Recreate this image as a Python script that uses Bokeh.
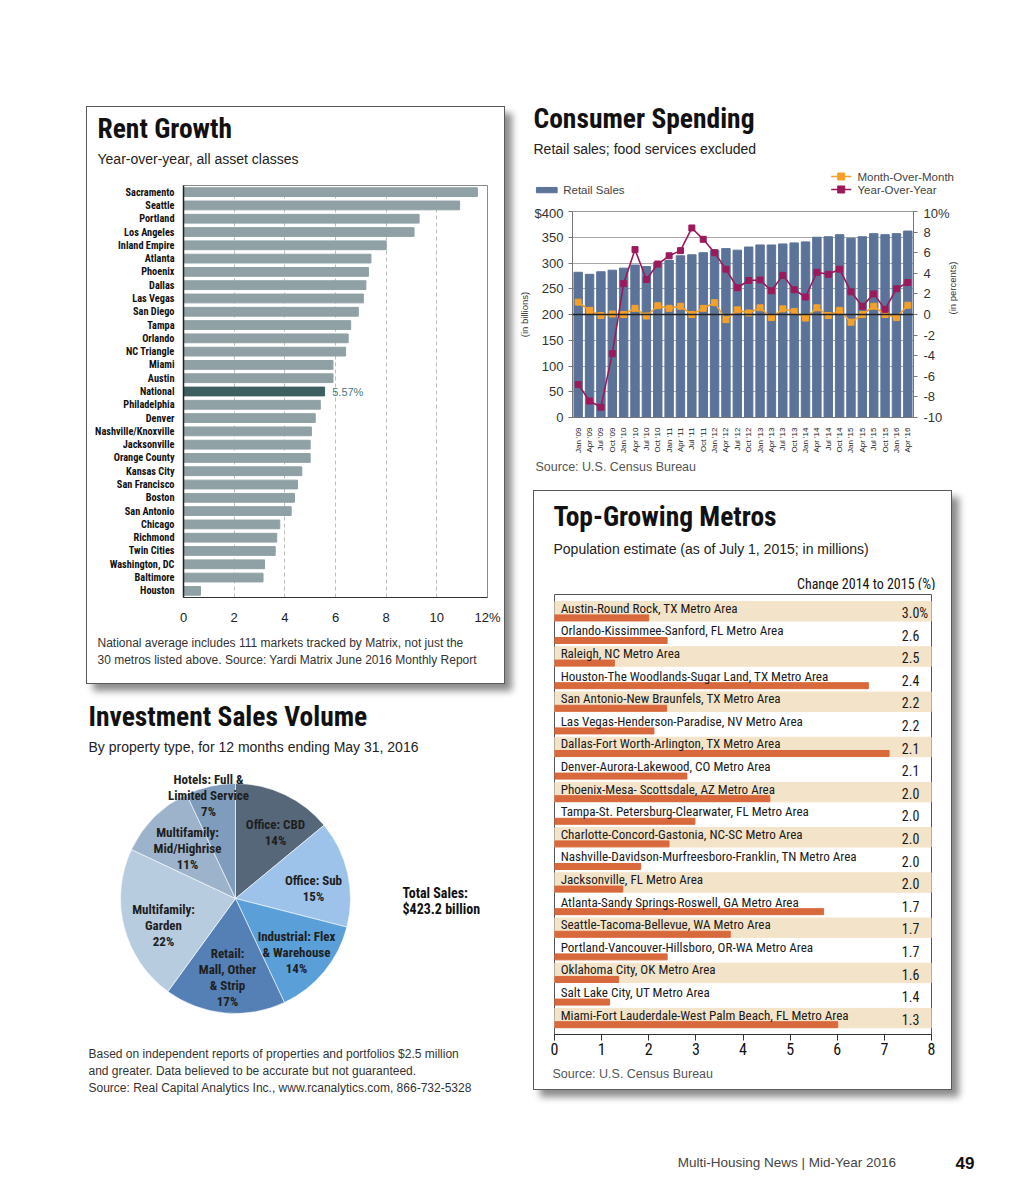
import math
from bokeh.plotting import figure
from bokeh.models import Range1d, FactorRange, Spacer, FixedTicker, CustomJSTickFormatter, Span, Label, LinearAxis
from bokeh.layouts import row, column
from bokeh.embed import file_html
from bokeh.resources import INLINE
from bokeh.core.properties import value

NARROW = "Roboto Condensed, Liberation Sans Narrow, DejaVu Sans Condensed, sans-serif"
SANS = "Liberation Sans, Arial, Helvetica, sans-serif"

# ---------------- data ----------------
rent_cities = ["Sacramento", "Seattle", "Portland", "Los Angeles", "Inland Empire", "Atlanta",
               "Phoenix", "Dallas", "Las Vegas", "San Diego", "Tampa", "Orlando", "NC Triangle",
               "Miami", "Austin", "National", "Philadelphia", "Denver", "Nashville/Knoxville",
               "Jacksonville", "Orange County", "Kansas City", "San Francisco", "Boston",
               "San Antonio", "Chicago", "Richmond", "Twin Cities", "Washington, DC", "Baltimore",
               "Houston"]
rent_growth = [11.6, 10.9, 9.3, 9.1, 8.0, 7.4, 7.3, 7.2, 7.1, 6.9, 6.6, 6.5, 6.4, 5.9, 5.9, 5.57,
               5.4, 5.2, 5.05, 5.0, 5.0, 4.67, 4.5, 4.38, 4.25, 3.8, 3.68, 3.62, 3.2, 3.14, 0.67]
rent_ticks = [0, 2, 4, 6, 8, 10, 12]

quarters = ["Jan '09", "Apr '09", "Jul '09", "Oct '09", "Jan '10", "Apr '10", "Jul '10", "Oct '10",
            "Jan '11", "Apr '11", "Jul '11", "Oct '11", "Jan '12", "Apr '12", "Jul '12", "Oct '12",
            "Jan '13", "Apr '13", "Jul '13", "Oct '13", "Jan '14", "Apr '14", "Jul '14", "Oct '14",
            "Jan '15", "Apr '15", "Jul '15", "Oct '15", "Jan '16", "Apr '16"]
retail_sales = [282, 278, 283, 286, 290, 296, 293, 301, 305, 314, 316, 320, 325, 328, 325, 331,
                335, 335, 337, 339, 341, 350, 351, 355, 348, 351, 357, 355, 357, 362]
mom = [1.2, 0.4, -0.1, 0.05, 0.0, 0.6, -0.15, 0.85, 0.6, 0.8, 0.0, 0.6, 1.15, -0.5, 0.45, 0.15,
       0.65, -0.3, 0.55, 0.3, -0.35, 0.65, -0.1, 0.4, -0.75, 0.0, 0.8, 0.0, -0.3, 0.9]
yoy = [-6.8, -8.4, -9.0, -3.8, 3.0, 6.3, 3.4, 4.9, 5.7, 6.2, 8.4, 7.3, 6.0, 4.4, 2.6, 3.3,
       3.35, 2.3, 3.8, 2.4, 1.7, 4.1, 3.9, 4.4, 2.2, 0.8, 2.0, 0.5, 2.5, 3.1]
sales_ticks = [0, 50, 100, 150, 200, 250, 300, 350, 400]
pct_ticks = [-10, -8, -6, -4, -2, 0, 2, 4, 6, 8, 10]

pie_names = ["Office: CBD", "Office: Sub", "Industrial: Flex & Warehouse",
             "Retail: Mall, Other & Strip", "Multifamily: Garden", "Multifamily: Mid/Highrise",
             "Hotels: Full & Limited Service"]
pie_lines = [["Office: CBD"], ["Office: Sub"], ["Industrial: Flex", "& Warehouse"],
             ["Retail:", "Mall, Other", "& Strip"], ["Multifamily:", "Garden"],
             ["Multifamily:", "Mid/Highrise"], ["Hotels: Full &", "Limited Service"]]
pie_shares = [14, 15, 14, 17, 22, 11, 7]
total_sales = "$423.2 billion"

metro_names = ["Austin-Round Rock, TX Metro Area", "Orlando-Kissimmee-Sanford, FL Metro Area",
               "Raleigh, NC Metro Area", "Houston-The Woodlands-Sugar Land, TX Metro Area",
               "San Antonio-New Braunfels, TX Metro Area", "Las Vegas-Henderson-Paradise, NV Metro Area",
               "Dallas-Fort Worth-Arlington, TX Metro Area", "Denver-Aurora-Lakewood, CO Metro Area",
               "Phoenix-Mesa- Scottsdale, AZ Metro Area", "Tampa-St. Petersburg-Clearwater, FL Metro Area",
               "Charlotte-Concord-Gastonia, NC-SC Metro Area",
               "Nashville-Davidson-Murfreesboro-Franklin, TN Metro Area",
               "Jacksonville, FL Metro Area", "Atlanta-Sandy Springs-Roswell, GA Metro Area",
               "Seattle-Tacoma-Bellevue, WA Metro Area", "Portland-Vancouver-Hillsboro, OR-WA Metro Area",
               "Oklahoma City, OK Metro Area", "Salt Lake City, UT Metro Area",
               "Miami-Fort Lauderdale-West Palm Beach, FL Metro Area"]
metro_pop = [2.00, 2.39, 1.27, 6.66, 2.38, 2.11, 7.10, 2.81, 4.57, 2.98, 2.43, 1.83, 1.45, 5.71,
             3.73, 2.39, 1.36, 1.17, 6.01]
metro_change = [3.0, 2.6, 2.5, 2.4, 2.2, 2.2, 2.1, 2.1, 2.0, 2.0, 2.0, 2.0, 2.0, 1.7, 1.7, 1.7,
                1.6, 1.4, 1.3]
metro_ticks = [0, 1, 2, 3, 4, 5, 6, 7, 8]

# ---------------- helpers ----------------
def deco(w, h):
    p = figure(width=w, height=h, x_range=Range1d(0, w), y_range=Range1d(h, 0),
               x_axis_type=None, y_axis_type=None, toolbar_location=None,
               output_backend="svg", min_border=0, frame_align=False)
    p.outline_line_color = None
    p.background_fill_color = None
    p.border_fill_color = None
    return p


def txt(p, x, y, s, size, font=SANS, style="normal", color="#222222", align="left",
        baseline="middle"):
    p.text(x=[x], y=[y], text=[s], text_font=value(font), text_font_size=value(f"{size}px"),
           text_font_style=style, text_color=color, text_align=align, text_baseline=baseline)


def clean(p):
    p.background_fill_color = None
    p.border_fill_color = None
    p.xaxis.minor_tick_line_color = None
    p.yaxis.minor_tick_line_color = None


BOX = {"border": "1px solid #5a5a5a", "box-shadow": "7px 7px 7px rgba(0,0,0,0.45)",
       "background-color": "white"}

# ---------------- Rent Growth ----------------
rent_head = deco(417, 73)
txt(rent_head, 10, 21, "Rent Growth", 27.5, font=NARROW, style="bold", color="#111111")
txt(rent_head, 10, 51, "Year-over-year, all asset classes", 14, color="#222222")

rent = figure(width=417, height=447, y_range=FactorRange(factors=rent_cities[::-1]),
              x_range=Range1d(0, 12), toolbar_location=None, output_backend="svg",
              frame_align=False,
              min_border_left=96, min_border_right=17, min_border_top=5, min_border_bottom=26)
clean(rent)
rent.outline_line_color = "#8a8a8a"
rent_colors = ["#3d5f5f" if c == "National" else "#8fa1a4" for c in rent_cities]
rent.hbar(y=rent_cities, left=0, right=rent_growth, height=0.66, color=rent_colors)
nat = rent_growth[rent_cities.index("National")]
rent.text(x=[nat + 0.3], y=["National"], text=[f"{nat:.2f}%"], text_font=value(SANS),
          text_font_size=value("11px"), text_color="#4a7a78", text_baseline="middle")
rent.ygrid.visible = False
rent.xgrid.ticker = FixedTicker(ticks=rent_ticks[1:-1])
rent.xgrid.grid_line_color = "#bdbdbd"
rent.xgrid.grid_line_dash = "4 3"
rent.xaxis.ticker = FixedTicker(ticks=rent_ticks)
rent.xaxis.formatter = CustomJSTickFormatter(code="return tick == 12 ? '12%' : tick.toString();")
rent.xaxis.major_tick_line_color = None
rent.xaxis.axis_line_color = "#333333"
rent.xaxis.major_label_text_font = SANS
rent.xaxis.major_label_text_font_size = "13px"
rent.xaxis.major_label_text_color = "#222222"
rent.xaxis.major_label_standoff = 6
rent.yaxis.axis_line_color = "#222222"
rent.yaxis.axis_line_width = 1.5
rent.yaxis.major_tick_line_color = None
rent.yaxis.major_label_text_font = NARROW
rent.yaxis.major_label_text_font_style = "bold"
rent.yaxis.major_label_text_font_size = "10.3px"
rent.yaxis.major_label_text_color = "#111111"
rent.yaxis.major_label_standoff = 3
rent.yaxis.major_label_overrides = {"National": " "}
rent.add_layout(Label(x=-0.3, y=15.5, text="National", text_align="right",
                      text_baseline="middle", text_font=NARROW, text_font_style="bold",
                      text_font_size="10.3px", text_color="#3f6b69"))

rent_notes = deco(417, 56)
txt(rent_notes, 10, 15, "National average includes 111 markets tracked by Matrix, not just the",
    12, color="#333333")
txt(rent_notes, 10, 32, "30 metros listed above. Source: Yardi Matrix June 2016 Monthly Report",
    12, color="#333333")

rent_box = column(rent_head, rent, rent_notes, styles=BOX)

# ---------------- Investment Sales Volume ----------------
IH = 408
inv = figure(width=426, height=IH, x_range=Range1d(0, 426), y_range=Range1d(0, IH),
             x_axis_type=None, y_axis_type=None, toolbar_location=None,
             output_backend="svg", min_border=0, frame_align=False)
inv.outline_line_color = None
inv.background_fill_color = None
inv.border_fill_color = None


def itxt(x, yd, s, size, **kw):
    txt(inv, x, IH - yd, s, size, **kw)


itxt(2, 24, "Investment Sales Volume", 27.5, font=NARROW, style="bold", color="#111111")
itxt(2, 54, "By property type, for 12 months ending May 31, 2016", 14)

pie_colors = ["#56677a", "#9dc3ea", "#5a9fd8", "#5480b5", "#b8cce0", "#9db3cb", "#7f9cbc"]
total = sum(pie_shares)
starts, ends = [], []
acc = 0
for v in pie_shares:
    starts.append(math.pi / 2 - 2 * math.pi * acc / total)
    acc += v
    ends.append(math.pi / 2 - 2 * math.pi * acc / total)
inv.wedge(x=149, y=IH - 206, radius=115, start_angle=starts, end_angle=ends, direction="clock",
          fill_color=pie_colors, line_color="white", line_width=0.6)

label_pos = [(189, 132), (227, 188), (210, 244), (141, 261), (77, 217), (101, 140), (122, 87)]
for lines, v, (lx, ly) in zip(pie_lines, pie_shares, label_pos):
    allines = lines + [f"{v}%"]
    for k, s in enumerate(allines):
        itxt(lx, ly + 16 * k, s, 13, font=NARROW, style="bold", color="#1e1e1e", align="center")

itxt(316, 200, "Total Sales:", 14, font=NARROW, style="bold", color="#111111")
itxt(316, 216, total_sales, 14, font=NARROW, style="bold", color="#111111")

itxt(2, 361, "Based on independent reports of properties and portfolios $2.5 million", 12,
     color="#333333")
itxt(2, 378, "and greater. Data believed to be accurate but not guaranteed.", 12, color="#333333")
itxt(2, 395, "Source: Real Capital Analytics Inc., www.rcanalytics.com, 866-732-5328", 12,
     color="#333333")

# ---------------- Consumer Spending ----------------
ORANGE = "#f5a02a"
MAROON = "#9c1a5c"
BAR_BLUE = "#5b7399"

cons_head = deco(458, 197)
txt(cons_head, 21, 110, "Consumer Spending", 27.5, font=NARROW, style="bold", color="#111111")
txt(cons_head, 21, 140, "Retail sales; food services excluded", 14)
cons_head.rect(x=[34.3], y=[181.6], width=[20.7], height=[5.3], color=BAR_BLUE)
txt(cons_head, 50.7, 181, "Retail Sales", 11.5, color="#444444")
cons_head.line(x=[318.7, 338.7], y=[168, 168], line_color=ORANGE, line_width=1.6)
cons_head.scatter(x=[328.7], y=[168], marker="square", size=7, color=ORANGE)
txt(cons_head, 345, 168, "Month-Over-Month", 11.5, color="#444444")
cons_head.line(x=[318.7, 338.7], y=[181, 181], line_color=MAROON, line_width=1.6)
cons_head.scatter(x=[328.7], y=[181], marker="square", size=7, color=MAROON)
txt(cons_head, 345, 181, "Year-Over-Year", 11.5, color="#444444")

cons = figure(width=458, height=251, x_range=FactorRange(factors=quarters),
              y_range=Range1d(0, 400), toolbar_location=None, output_backend="svg",
              frame_align=False,
              min_border_left=60, min_border_right=57, min_border_top=6, min_border_bottom=36)
clean(cons)
cons.outline_line_color = "#999999"
cons.extra_y_ranges = {"pct": Range1d(-10, 10)}
cons.vbar(x=quarters, top=retail_sales, width=0.74, color=BAR_BLUE)
cons.add_layout(Span(location=0, dimension="width", y_range_name="pct", line_color="#222222",
                     line_width=1.5))
cons.line(x=quarters, y=mom, y_range_name="pct", line_color=ORANGE, line_width=1.6)
cons.scatter(x=quarters, y=mom, y_range_name="pct", marker="square", size=6, color=ORANGE)
cons.line(x=quarters, y=yoy, y_range_name="pct", line_color=MAROON, line_width=1.6)
cons.scatter(x=quarters, y=yoy, y_range_name="pct", marker="square", size=6, color=MAROON)

cons.xgrid.visible = False
cons.ygrid.ticker = FixedTicker(ticks=sales_ticks)
cons.ygrid.grid_line_color = "#a8a8a8"
cons.xaxis.major_label_orientation = math.pi / 2
cons.xaxis.major_label_text_font = SANS
cons.xaxis.major_label_text_font_size = "8px"
cons.xaxis.major_label_text_color = "#222222"
cons.xaxis.major_tick_line_color = None
cons.xaxis.axis_line_color = "#777777"
cons.xaxis.major_label_standoff = 4

ly = cons.yaxis[0]
ly.ticker = FixedTicker(ticks=sales_ticks)
ly.formatter = CustomJSTickFormatter(code="return tick == 400 ? '$400' : tick.toString();")
ly.axis_label = "(in billions)"
ly.axis_label_text_font = SANS
ly.axis_label_text_font_style = "normal"
ly.axis_label_text_font_size = "9.5px"
ly.axis_label_text_color = "#333333"
ly.axis_label_standoff = 2
ly.major_label_text_font = SANS
ly.major_label_text_font_size = "13px"
ly.major_label_text_color = "#333333"
ly.major_tick_out = 4
ly.major_tick_in = 0
ly.major_tick_line_color = "#777777"
ly.axis_line_color = "#777777"
ly.minor_tick_line_color = None

ry = LinearAxis(y_range_name="pct", ticker=FixedTicker(ticks=pct_ticks),
                formatter=CustomJSTickFormatter(code="return tick == 10 ? '10%' : tick.toString();"),
                axis_label="(in percents)")
ry.axis_label_text_font = SANS
ry.axis_label_text_font_style = "normal"
ry.axis_label_text_font_size = "9.5px"
ry.axis_label_text_color = "#333333"
ry.axis_label_standoff = 0
ry.major_label_text_font = SANS
ry.major_label_text_font_size = "13px"
ry.major_label_text_color = "#333333"
ry.major_label_standoff = 6
ry.major_tick_out = 4
ry.major_tick_in = 0
ry.major_tick_line_color = "#777777"
ry.axis_line_color = "#777777"
ry.minor_tick_line_color = None
if "axis_label_orientation" in ry.properties():
    ry.axis_label_orientation = math.pi / 2
cons.add_layout(ry, "right")

cons_foot = deco(458, 30)
txt(cons_foot, 23, 10, "Source: U.S. Census Bureau", 12.5, color="#555555")

# ---------------- Top-Growing Metros ----------------
met_head = deco(417, 99)
txt(met_head, 19, 25, "Top-Growing Metros", 27.5, font=NARROW, style="bold", color="#111111")
txt(met_head, 19, 57, "Population estimate (as of July 1, 2015; in millions)", 14)
txt(met_head, 401, 92, "Change 2014 to 2015 (%)", 14, font=NARROW, color="#111111", align="right")

met = figure(width=417, height=470, x_range=Range1d(0, 8), y_range=Range1d(18.67, -0.8),
             y_axis_location=None, toolbar_location=None, output_backend="svg",
             frame_align=False,
             min_border_left=20, min_border_right=20, min_border_top=4, min_border_bottom=26)
clean(met)
met.grid.visible = False
met.outline_line_color = "#555555"
rows_idx = list(range(len(metro_names)))
band_rows = rows_idx[::2]
met.hbar(y=[r - 0.055 for r in band_rows], left=0, right=8, height=0.86, color="#f3e3c8")
met.hbar(y=[r + 0.235 for r in rows_idx], left=0, right=metro_pop, height=0.265, color="#d8693c")
met.text(x=0.13, y=[r - 0.19 for r in rows_idx], text=metro_names, text_font=value(NARROW),
         text_font_size=value("13.1px"), text_color="#1a1a1a", text_baseline="middle")
change_labels = [f"{v:.1f}%" if i == 0 else f"{v:.1f}" for i, v in enumerate(metro_change)]
met.text(x=7.37, y=rows_idx, text=change_labels, text_font=value(NARROW),
         text_font_size=value("14px"), text_color="#1a1a1a", text_baseline="middle")
met.xaxis.ticker = FixedTicker(ticks=metro_ticks)
met.xaxis.major_label_text_font = NARROW
met.xaxis.major_label_text_font_size = "16px"
met.xaxis.major_label_text_color = "#111111"
met.xaxis.major_tick_out = 6
met.xaxis.major_tick_in = 0
met.xaxis.major_tick_line_color = "#333333"
met.xaxis.axis_line_color = "#333333"
met.xaxis.major_label_standoff = 2

met_foot = deco(417, 29)
txt(met_foot, 18, 13, "Source: U.S. Census Bureau", 12.5, color="#555555")

met_box = column(met_head, met, met_foot, styles=BOX)

# ---------------- footer ----------------
footer = deco(1008, 80)
txt(footer, 895, 62, "Multi-Housing News  |  Mid-Year 2016", 13.5, color="#444444", align="right")
txt(footer, 947, 62, "49", 17, style="bold", color="#111111")

# ---------------- layout ----------------
left = column(Spacer(width=10, height=98),
              row(Spacer(width=78, height=10), rent_box),
              Spacer(width=10, height=8),
              row(Spacer(width=78, height=10), inv))
right = column(cons_head, cons, cons_foot, Spacer(width=10, height=4),
               row(Spacer(width=21, height=10), met_box))
page = column(row(left, right), footer)
outer = column(Spacer(width=10, height=8), row(Spacer(width=8, height=10), page))

open("out.html", "w").write(file_html(outer, INLINE))
